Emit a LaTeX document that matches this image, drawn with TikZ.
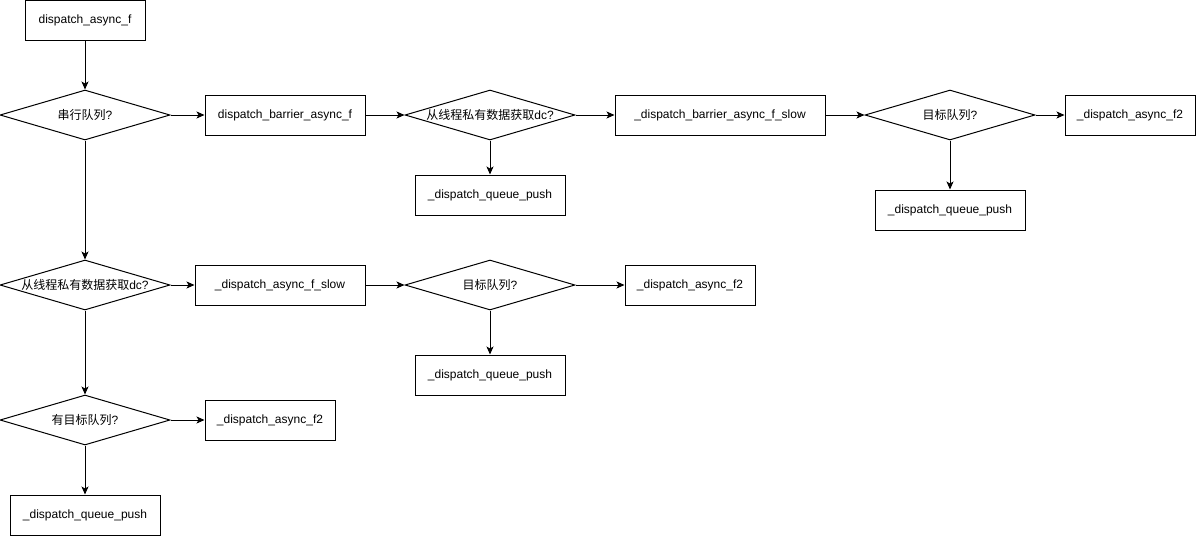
\documentclass[tikz,border=0pt]{standalone}
\usepackage{fontspec}
\setmainfont{Liberation Sans}
\newfontfamily\cjk{Noto Sans CJK SC}
\usetikzlibrary{shapes.geometric,arrows.meta}
\tikzset{
  box/.style={draw,line width=1pt,minimum width=#1,minimum height=40pt,inner sep=0pt,font=\fontsize{12pt}{14pt}\selectfont},
  dia/.style={draw,diamond,line width=1pt,minimum width=170pt,minimum height=50pt,inner sep=0pt},
  dlabel/.style={font=\fontsize{12pt}{14pt}\selectfont,inner sep=0pt},
  conn/.style={line width=1pt,-{Stealth[length=8pt,width=7pt,inset=2pt]}}
}
\begin{document}
\begin{tikzpicture}[x=1pt,y=-1pt]
\useasboundingbox (0,0) rectangle (1196,536);
% row 1
\node[box=120pt] (n1) at (85,20) {dispatch\_async\_f};
\node[dia] (d1) at (85,115) {};
\node[dlabel] (t1) at (d1.center) {{\cjk 串行队列}?};
\node[box=160pt] (b1) at (285,115) {dispatch\_barrier\_async\_f};
\node[dia] (d2) at (490,115) {};
\node[dlabel] (t2) at (d2.center) {{\cjk 从线程私有数据获取}dc?};
\node[box=150pt] (qp1) at (490,195) {\_dispatch\_queue\_push};
\node[box=210pt] (bs) at (720,115) {\_dispatch\_barrier\_async\_f\_slow};
\node[dia] (d3) at (950,115) {};
\node[dlabel] (t3) at (d3.center) {{\cjk 目标队列}?};
\node[box=130pt] (f2a) at (1130,115) {\_dispatch\_async\_f2};
\node[box=150pt] (qp2) at (950,210) {\_dispatch\_queue\_push};
% row 2
\node[dia] (d4) at (85,285) {};
\node[dlabel] (t4) at (d4.center) {{\cjk 从线程私有数据获取}dc?};
\node[box=170pt] (s2) at (280,285) {\_dispatch\_async\_f\_slow};
\node[dia] (d5) at (490,285) {};
\node[dlabel] (t5) at (d5.center) {{\cjk 目标队列}?};
\node[box=130pt] (f2b) at (690,285) {\_dispatch\_async\_f2};
\node[box=150pt] (qp3) at (490,375) {\_dispatch\_queue\_push};
% row 3
\node[dia] (d6) at (85,420) {};
\node[dlabel] (t6) at (d6.center) {{\cjk 有目标队列}?};
\node[box=130pt] (f2c) at (270,420) {\_dispatch\_async\_f2};
\node[box=150pt] (qp4) at (85,515) {\_dispatch\_queue\_push};
% connectors
\draw[conn] (n1.south) -- (d1.north);
\draw[conn] (d1.east) -- (b1.west);
\draw[conn] (b1.east) -- (d2.west);
\draw[conn] (d2.south) -- (qp1.north);
\draw[conn] (d2.east) -- (bs.west);
\draw[conn] (bs.east) -- (d3.west);
\draw[conn] (d3.east) -- (f2a.west);
\draw[conn] (d3.south) -- (qp2.north);
\draw[conn] (d1.south) -- (d4.north);
\draw[conn] (d4.east) -- (s2.west);
\draw[conn] (s2.east) -- (d5.west);
\draw[conn] (d5.east) -- (f2b.west);
\draw[conn] (d5.south) -- (qp3.north);
\draw[conn] (d4.south) -- (d6.north);
\draw[conn] (d6.east) -- (f2c.west);
\draw[conn] (d6.south) -- (qp4.north);
\end{tikzpicture}
\end{document}
